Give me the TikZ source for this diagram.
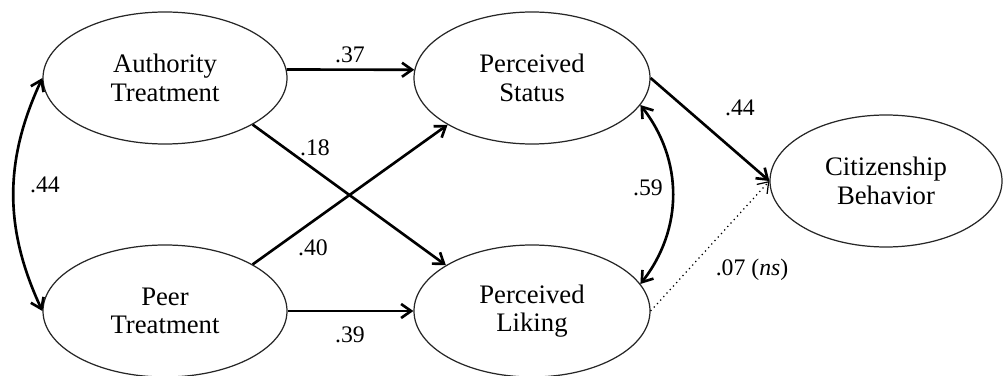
\documentclass[tikz,border=0pt]{standalone}
\usepackage{fontspec}
\setmainfont{Liberation Serif}
\usetikzlibrary{arrows.meta,shapes.geometric}
\tikzset{
  latent/.style={ellipse, draw=black!85, line width=0.7pt, inner sep=0pt,
    minimum height=2.64cm, align=center, font=\fontsize{15.2}{16.2}\selectfont},
  effect/.style={line width=1.5pt, -{Straight Barb[length=2mm,width=2.8mm]}},
  covar/.style={line width=1.5pt, {Straight Barb[length=2mm,width=2.8mm]}-{Straight Barb[length=2mm,width=2.8mm]}},
  nseffect/.style={line width=0.7pt, dotted, -{Straight Barb[length=2mm,width=2.8mm]}},
  coef/.style={font=\fontsize{13.5}{15}\selectfont, inner sep=1pt}
}
\begin{document}
\begin{tikzpicture}
\useasboundingbox (0,0) rectangle (20.06,7.5);
% exogenous treatments on the left
\node[latent, minimum width=4.88cm] (auth) at (3.30,5.94) {Authority\\Treatment};
\node[latent, minimum width=4.88cm] (peer) at (3.30,1.28) {Peer\\Treatment};
% mediators
\node[latent, minimum width=4.72cm] (stat) at (10.64,5.94) {Perceived\\Status};
\node[latent, minimum width=4.72cm] (lik) at (10.64,1.28) {Perceived\\Liking};
% outcome
\node[latent, minimum width=4.64cm] (cit) at (17.72,3.88) {Citizenship\\Behavior};
% paths
\draw[effect] (auth.4) -- (stat.176);
\draw[effect] (peer.east) -- (lik.west);
\draw[effect] (auth.-28) -- (lik.152);
\draw[effect] (peer.28) -- (stat.209);
\draw[effect] (stat.east) -- (cit.west);
\draw[nseffect] (lik.east) -- (cit.west);
% covariances
\draw[covar] (auth.west) to[bend right=25] (peer.west);
\draw[covar] (stat.-14) to[bend left=38] (lik.14);
% coefficients
\node[coef] (c37) at (7.00,6.40) {.37};
\node[coef] (c39) at (7.00,0.80) {.39};
\node[coef] (c18) at (6.30,4.54) {.18};
\node[coef] (c40) at (6.26,2.54) {.40};
\node[coef] (c44a) at (0.90,3.80) {.44};
\node[coef] (c44b) at (14.80,5.34) {.44};
\node[coef] (c59) at (12.96,3.74) {.59};
\node[coef] (c07) at (15.04,2.10) {.07 (\textit{ns})};
\end{tikzpicture}
\end{document}
